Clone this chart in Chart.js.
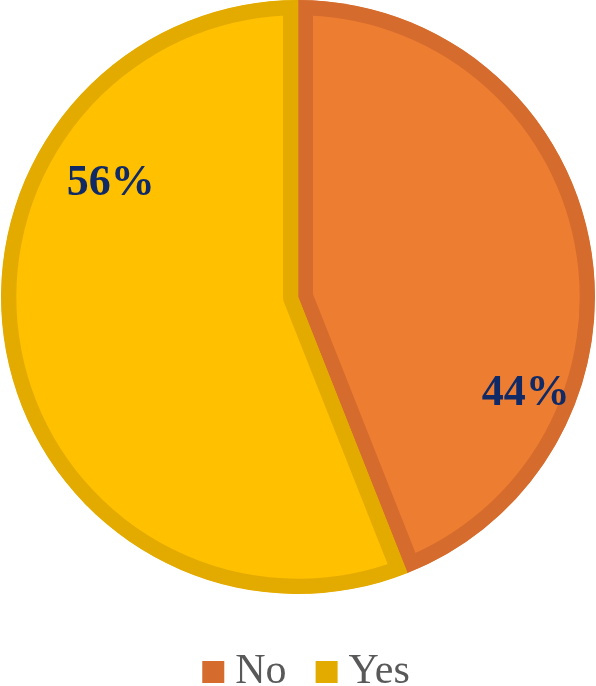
<!DOCTYPE html>
<html>
<head>
<meta charset="utf-8">
<script src="https://cdn.jsdelivr.net/npm/chart.js@4"></script>
<style>
  html, body { margin: 0; padding: 0; background: #fff; }
  #wrap { width: 596px; height: 686px; }
</style>
</head>
<body>
<div id="wrap"><canvas id="pieChart" width="596" height="686"></canvas></div>
<script>
// data
const categories = ['No', 'Yes'];
const shares = [44, 56];
const fillColors = ['#ED7D31', '#FFC000'];
const edgeColors = ['#D56B2C', '#E3AA00'];

// percentage labels inside slices (Excel "best fit" style spots)
const sliceLabels = {
    id: 'sliceLabels',
    afterDatasetsDraw(chart) {
        const ctx = chart.ctx;
        const arcs = chart.getDatasetMeta(0).data;
        const radial = [0.83, 0.74];
        ctx.save();
        ctx.font = 'bold 44px "Liberation Serif", "Times New Roman", serif';
        ctx.fillStyle = '#0F2A66';
        ctx.textAlign = 'center';
        ctx.textBaseline = 'middle';
        arcs.forEach((arc, i) => {
            const p = arc.getProps(['x', 'y', 'startAngle', 'endAngle', 'outerRadius'], true);
            const a = p.startAngle + 0.71 * (p.endAngle - p.startAngle);
            const r = p.outerRadius * radial[i];
            ctx.fillText(shares[i] + '%', p.x + Math.cos(a) * r, p.y + Math.sin(a) * r + 2);
        });
        ctx.restore();
    }
};

// legend drawn under the pie
const bottomLegend = {
    id: 'bottomLegend',
    afterDraw(chart) {
        const ctx = chart.ctx;
        const box = 22, gap = 11, itemGap = 29;
        const baseline = chart.height - 3;
        ctx.save();
        ctx.font = '42px "Liberation Serif", "Times New Roman", serif';
        const widths = categories.map(c => ctx.measureText(c).width);
        let total = 0;
        widths.forEach((w, i) => { total += box + gap + w + (i ? itemGap : 0); });
        let x = chart.width / 2 + 8 - total / 2;
        categories.forEach((c, i) => {
            ctx.fillStyle = edgeColors[i];
            ctx.fillRect(x, baseline - box, box, box);
            x += box + gap;
            ctx.fillStyle = '#595959';
            ctx.textAlign = 'left';
            ctx.textBaseline = 'alphabetic';
            ctx.fillText(c, x, baseline);
            x += widths[i] + itemGap;
        });
        ctx.restore();
    }
};

new Chart(document.getElementById('pieChart'), {
    type: 'pie',
    data: {
        labels: categories,
        datasets: [{
            data: shares,
            backgroundColor: fillColors,
            borderColor: edgeColors,
            borderWidth: 15,
            borderAlign: 'inner',
            hoverOffset: 0,
            offset: 0
        }]
    },
    options: {
        responsive: false,
        animation: false,
        layout: { padding: { top: 0, left: 0, right: 0, bottom: 92 } },
        plugins: {
            legend: { display: false },
            tooltip: { enabled: false }
        }
    },
    plugins: [sliceLabels, bottomLegend]
});
</script>
</body>
</html>
